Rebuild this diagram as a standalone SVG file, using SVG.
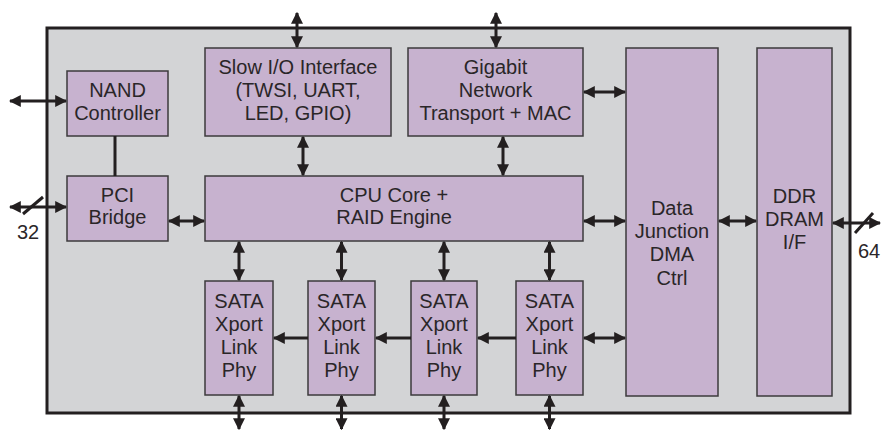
<svg xmlns="http://www.w3.org/2000/svg" width="882" height="430" viewBox="0 0 882 430">
<defs>
<marker id="ah" viewBox="0 0 10 10" refX="9" refY="5" markerWidth="4" markerHeight="4" orient="auto-start-reverse" markerUnits="strokeWidth">
<path d="M0,0 L10,5 L0,10 z" fill="#231f20"/>
</marker>
</defs>
<style>
.blk{fill:#c7b2cf;stroke:#3c3a3c;stroke-width:1.5}
.t{font-family:"Liberation Sans","Open Sans",sans-serif;font-size:20px;fill:#2a2628;text-anchor:middle}
.c{stroke:#231f20;stroke-width:3;fill:none}
.a{marker-start:url(#ah);marker-end:url(#ah)}
.e{marker-end:url(#ah)}
</style>
<rect width="882" height="430" fill="#fff"/>
<rect id="chip" x="47" y="28" width="803" height="385" fill="#d3d4d6" stroke="#231f20" stroke-width="3"/>
<g id="nand"><rect class="blk" x="67" y="71" width="101" height="65"/><text class="t" x="117.5" y="97">NAND</text><text class="t" x="117.5" y="120">Controller</text></g>
<g id="pci"><rect class="blk" x="67" y="176" width="101" height="65"/><text class="t" x="117.5" y="202">PCI</text><text class="t" x="117.5" y="224">Bridge</text></g>
<g id="slowio"><rect class="blk" x="205" y="48" width="186" height="88"/><text class="t" x="298" y="74">Slow I/O Interface</text><text class="t" x="298" y="97">(TWSI, UART,</text><text class="t" x="298" y="120">LED, GPIO)</text></g>
<g id="gige"><rect class="blk" x="408" y="48" width="175" height="88"/><text class="t" x="495.5" y="74">Gigabit</text><text class="t" x="495.5" y="97">Network</text><text class="t" x="495.5" y="120">Transport + MAC</text></g>
<g id="cpu"><rect class="blk" x="205" y="176" width="378" height="65"/><text class="t" x="394" y="202">CPU Core +</text><text class="t" x="394" y="224">RAID Engine</text></g>
<g id="dj"><rect class="blk" x="626" y="48" width="92" height="348"/><text class="t" x="672" y="215">Data</text><text class="t" x="672" y="238">Junction</text><text class="t" x="672" y="261">DMA</text><text class="t" x="672" y="285">Ctrl</text></g>
<g id="ddr"><rect class="blk" x="757" y="48" width="75" height="348"/><text class="t" x="794.5" y="203">DDR</text><text class="t" x="794.5" y="226">DRAM</text><text class="t" x="794.5" y="249">I/F</text></g>
<g id="sata1"><rect class="blk" x="205" y="281" width="68" height="114"/><text class="t" x="239" y="308">SATA</text><text class="t" x="239" y="331">Xport</text><text class="t" x="239" y="354">Link</text><text class="t" x="239" y="377">Phy</text></g>
<g id="sata2"><rect class="blk" x="308" y="281" width="67" height="114"/><text class="t" x="341.5" y="308">SATA</text><text class="t" x="341.5" y="331">Xport</text><text class="t" x="341.5" y="354">Link</text><text class="t" x="341.5" y="377">Phy</text></g>
<g id="sata3"><rect class="blk" x="411" y="281" width="66" height="114"/><text class="t" x="444" y="308">SATA</text><text class="t" x="444" y="331">Xport</text><text class="t" x="444" y="354">Link</text><text class="t" x="444" y="377">Phy</text></g>
<g id="sata4"><rect class="blk" x="516" y="281" width="67" height="114"/><text class="t" x="549.5" y="308">SATA</text><text class="t" x="549.5" y="331">Xport</text><text class="t" x="549.5" y="354">Link</text><text class="t" x="549.5" y="377">Phy</text></g>
<g id="connectors">
<line class="c a" x1="10" y1="101" x2="66" y2="101"/>
<line class="c a" x1="10" y1="207" x2="66" y2="207"/>
<line class="c" x1="23" y1="214" x2="43" y2="197"/>
<text class="t" x="28" y="239">32</text>
<line class="c" x1="115" y1="136" x2="115" y2="176"/>
<line class="c a" x1="169" y1="221" x2="204" y2="221"/>
<line class="c a" x1="297" y1="13" x2="297" y2="47"/>
<line class="c a" x1="496" y1="13" x2="496" y2="47"/>
<line class="c a" x1="303" y1="137" x2="303" y2="175"/>
<line class="c a" x1="503" y1="137" x2="503" y2="175"/>
<line class="c a" x1="584" y1="92" x2="625" y2="92"/>
<line class="c a" x1="584" y1="221" x2="625" y2="221"/>
<line class="c a" x1="584" y1="338" x2="625" y2="338"/>
<line class="c a" x1="719" y1="221" x2="756" y2="221"/>
<line class="c a" x1="833" y1="223" x2="880" y2="223"/>
<line class="c" x1="855" y1="233" x2="873" y2="213"/>
<text class="t" x="869" y="258">64</text>
<line class="c a" x1="239" y1="242" x2="239" y2="280"/>
<line class="c a" x1="341.5" y1="242" x2="341.5" y2="280"/>
<line class="c a" x1="444" y1="242" x2="444" y2="280"/>
<line class="c a" x1="549.5" y1="242" x2="549.5" y2="280"/>
<line class="c a" x1="239" y1="396" x2="239" y2="429"/>
<line class="c a" x1="341.5" y1="396" x2="341.5" y2="429"/>
<line class="c a" x1="444" y1="396" x2="444" y2="429"/>
<line class="c a" x1="549.5" y1="396" x2="549.5" y2="429"/>
<line class="c e" x1="516" y1="338" x2="478" y2="338"/>
<line class="c e" x1="411" y1="338" x2="376" y2="338"/>
<line class="c e" x1="308" y1="338" x2="274" y2="338"/>
</g>
</svg>
